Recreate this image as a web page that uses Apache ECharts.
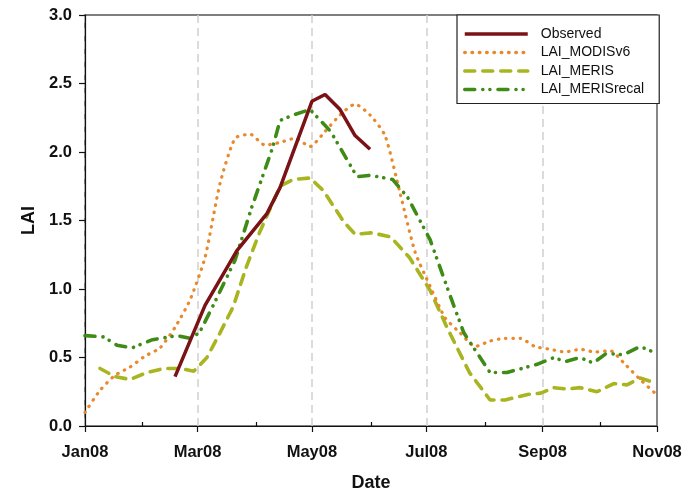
<!DOCTYPE html>
<html>
<head>
<meta charset="utf-8">
<script src="https://cdn.jsdelivr.net/npm/echarts@6/dist/echarts.min.js"></script>
<style>
html,body{margin:0;padding:0;background:#fff;}
#chart{width:694px;height:492px;}
</style>
</head>
<body>
<div id="chart"></div>
<script>
// ---- data ----
var seriesNames = ['Observed', 'LAI_MODISv6', 'LAI_MERIS', 'LAI_MERISrecal'];
var monthLabels = ['Jan08','Feb08','Mar08','Apr08','May08','Jun08','Jul08','Aug08','Sep08','Oct08','Nov08'];
var yTicks = [0.0, 0.5, 1.0, 1.5, 2.0, 2.5, 3.0];

var obsDates = ['2008-02-18','2008-03-05','2008-03-22','2008-04-07','2008-04-14','2008-05-01','2008-05-08','2008-05-16','2008-05-24','2008-06-01'];
var obsValues = [0.36, 0.88, 1.28, 1.55, 1.74, 2.37, 2.42, 2.31, 2.12, 2.02];

var modisDates = ['2008-01-01','2008-01-09','2008-01-17','2008-01-25','2008-02-02','2008-02-10','2008-02-18','2008-02-26',
  '2008-03-05','2008-03-13','2008-03-21','2008-03-29','2008-04-06','2008-04-14','2008-04-22','2008-04-30',
  '2008-05-08','2008-05-16','2008-05-24','2008-06-01','2008-06-09','2008-06-17','2008-06-25','2008-07-03',
  '2008-07-11','2008-07-19','2008-07-27','2008-08-04','2008-08-12','2008-08-20','2008-08-28','2008-09-05',
  '2008-09-13','2008-09-21','2008-09-29','2008-10-07','2008-10-15','2008-10-23','2008-10-31'];
var modisValues = [0.10, 0.26, 0.37, 0.43, 0.51, 0.57, 0.72, 0.92,
  1.23, 1.77, 2.10, 2.13, 2.05, 2.07, 2.10, 2.04,
  2.15, 2.27, 2.35, 2.27, 2.12, 1.70, 1.27, 1.02,
  0.79, 0.68, 0.58, 0.62, 0.64, 0.64, 0.58, 0.56,
  0.54, 0.56, 0.54, 0.55, 0.45, 0.34, 0.24];

var merisDates = ['2008-01-09','2008-01-17','2008-01-25','2008-02-03','2008-02-12','2008-02-21','2008-02-28','2008-03-06',
  '2008-03-13','2008-03-20','2008-03-27','2008-04-03','2008-04-14','2008-04-21','2008-04-30','2008-05-07',
  '2008-05-18','2008-05-24','2008-06-02','2008-06-12','2008-06-22','2008-07-03','2008-07-12','2008-07-24',
  '2008-08-04','2008-08-12','2008-08-24','2008-08-31','2008-09-07','2008-09-14','2008-09-21','2008-09-30',
  '2008-10-09','2008-10-16','2008-10-23','2008-11-01'];
var merisValues = [0.42, 0.36, 0.34, 0.39, 0.42, 0.42, 0.40, 0.50,
  0.68, 0.87, 1.16, 1.41, 1.75, 1.80, 1.81, 1.72,
  1.49, 1.40, 1.41, 1.38, 1.23, 0.99, 0.72, 0.39,
  0.19, 0.19, 0.23, 0.24, 0.28, 0.27, 0.28, 0.25,
  0.31, 0.30, 0.35, 0.31];

var recalDates = ['2008-01-01','2008-01-11','2008-01-18','2008-01-26','2008-02-06','2008-02-19','2008-02-26','2008-03-02',
  '2008-03-09','2008-03-21','2008-03-30','2008-04-10','2008-04-14','2008-04-21','2008-04-30','2008-05-11',
  '2008-05-25','2008-06-01','2008-06-13','2008-06-21','2008-07-03','2008-07-14','2008-07-21','2008-08-04',
  '2008-08-13','2008-08-29','2008-09-07','2008-09-13','2008-09-21','2008-09-28','2008-10-05','2008-10-14',
  '2008-10-23','2008-11-01'];
var recalValues = [0.66, 0.65, 0.59, 0.57, 0.63, 0.66, 0.64, 0.68,
  0.87, 1.21, 1.60, 2.03, 2.23, 2.27, 2.31, 2.15,
  1.82, 1.83, 1.80, 1.67, 1.36, 0.94, 0.68, 0.39,
  0.39, 0.45, 0.50, 0.47, 0.50, 0.46, 0.53, 0.52,
  0.58, 0.53];

function pairs(d, v) { return d.map(function (x, i) { return [x, v[i]]; }); }

var FONT = 'Liberation Sans, Arial, Helvetica, sans-serif';
var monthNames = ['Jan','Feb','Mar','Apr','May','Jun','Jul','Aug','Sep','Oct','Nov','Dec'];

var chart = echarts.init(document.getElementById('chart'), null, {renderer: 'canvas'});
var option = {
  backgroundColor: '#ffffff',
  animation: false,
  textStyle: {fontFamily: FONT},
  grid: {left: 85, right: 37, top: 15, bottom: 66, containLabel: false, outerBoundsMode: 'none',
    show: true, borderColor: '#555', borderWidth: 1.4, backgroundColor: 'transparent'},
  legend: {
    orient: 'vertical', left: 457, top: 15,
    itemWidth: 63, itemHeight: 14, itemGap: 4.5,
    padding: [12, 15, 7, 6],
    backgroundColor: '#fff', borderColor: '#222', borderWidth: 1.2, borderRadius: 0,
    itemStyle: {opacity: 0},
    lineStyle: {width: 3.5},
    textStyle: {fontSize: 14, color: '#111', fontFamily: FONT, padding: [0, 0, 0, 8]},
    data: seriesNames
  },
  xAxis: [{
    type: 'time',
    min: '2008-01-01', max: '2008-11-01',
    splitNumber: 5,
    axisLine: {lineStyle: {color: '#111', width: 1.2}},
    axisTick: {show: true, inside: false, length: 6, lineStyle: {color: '#111', width: 1.2}},
    axisLabel: {
      margin: 18, fontSize: 16.5, fontWeight: 'bold', color: '#111', fontFamily: FONT,
      formatter: function (val) { var d = new Date(val); return monthNames[d.getMonth()] + '08'; },
      showMinLabel: true, showMaxLabel: true
    },
    splitLine: {show: true, showMinLine: false, showMaxLine: false, lineStyle: {color: '#cfcfcf', width: 1.5, type: [8, 5]}},
    name: 'Date', nameLocation: 'middle', nameGap: 48,
    nameTextStyle: {fontSize: 18, fontWeight: 'bold', color: '#111', fontFamily: FONT}
  }, {
    type: 'category', position: 'bottom', boundaryGap: false,
    data: monthLabels,
    axisLine: {show: false},
    axisLabel: {show: false},
    splitLine: {show: false},
    axisTick: {show: true, inside: true, length: 4, interval: function (i) { return i % 2 === 1; }, lineStyle: {color: '#111', width: 1.2}}
  }],
  yAxis: {
    type: 'value', min: yTicks[0], max: yTicks[yTicks.length - 1], interval: 0.5,
    axisLine: {show: true, lineStyle: {color: '#111', width: 1.2}},
    axisTick: {show: true, inside: false, length: 6, lineStyle: {color: '#111', width: 1.2}},
    axisLabel: {margin: 13, fontSize: 16.5, fontWeight: 'bold', color: '#111', fontFamily: FONT,
      formatter: function (v) { return v.toFixed(1); }},
    splitLine: {show: false},
    name: 'LAI', nameLocation: 'middle', nameGap: 43,
    nameTextStyle: {fontSize: 18, fontWeight: 'bold', color: '#111', fontFamily: FONT}
  },
  series: [
    {name: seriesNames[0], type: 'line', xAxisIndex: 0, data: pairs(obsDates, obsValues), symbol: 'none', z: 5,
      itemStyle: {color: '#7a1216'}, lineStyle: {color: '#7a1216', width: 3.5}},
    {name: seriesNames[1], type: 'line', xAxisIndex: 0, data: pairs(modisDates, modisValues), symbol: 'none', z: 3, smooth: 0.2,
      itemStyle: {color: '#e8892b'}, lineStyle: {color: '#e8892b', width: 3.2, type: [0.5, 6.8], cap: 'round'}},
    {name: seriesNames[2], type: 'line', xAxisIndex: 0, data: pairs(merisDates, merisValues), symbol: 'none', z: 2,
      itemStyle: {color: '#a9b520'}, lineStyle: {color: '#a9b520', width: 3.6, type: [10, 8], cap: 'round'}},
    {name: seriesNames[3], type: 'line', xAxisIndex: 0, data: pairs(recalDates, recalValues), symbol: 'none', z: 4,
      itemStyle: {color: '#3e8b16'}, lineStyle: {color: '#3e8b16', width: 3.6, type: [10, 8, 0.1, 7, 0.1, 8], cap: 'round'}}
  ]
};
chart.setOption(option);
</script>
</body>
</html>
